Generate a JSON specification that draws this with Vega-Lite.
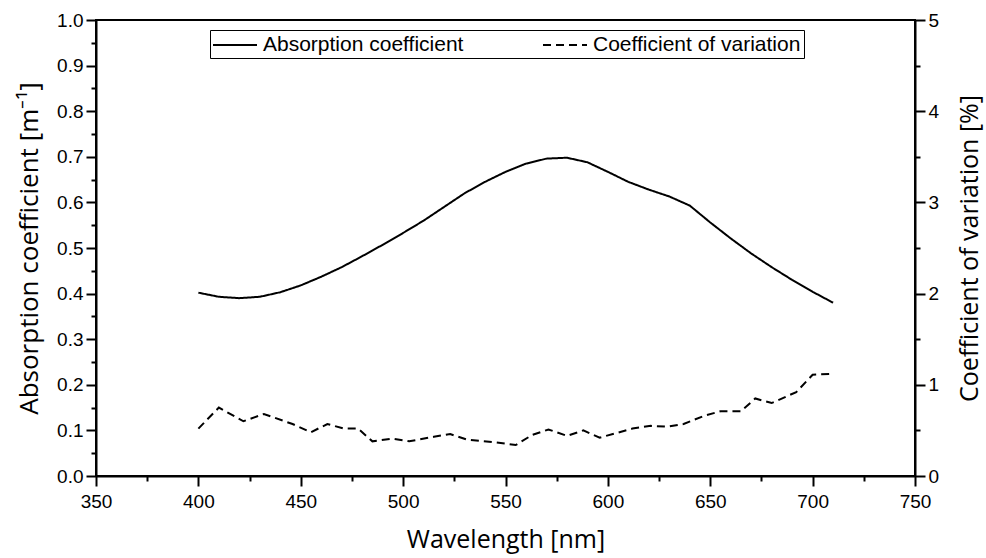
{
  "$schema": "https://vega.github.io/schema/vega-lite/v6.json",
  "width": 819,
  "height": 456,
  "autosize": {"type": "none"},
  "padding": {"left": 96, "top": 20, "right": 71, "bottom": 82},
  "background": "white",
  "config": {
    "view": {"stroke": "black", "strokeWidth": 2},
    "axis": {
      "domainColor": "black", "domainWidth": 2, "tickColor": "black", "tickWidth": 2,
      "grid": false, "labelFont": "Liberation Sans", "labelFontSize": 19, "labelColor": "black",
      "titleFont": "Open Sans", "titleFontSize": 25, "titleFontWeight": "normal", "titleColor": "black"
    },
    "legend": {"labelFont": "Liberation Sans", "labelFontSize": 21, "labelColor": "black", "labelLimit": 500}
  },
  "datasets": {
    "abs": [
      {"wl": 400, "a": 0.402}, {"wl": 410, "a": 0.393}, {"wl": 420, "a": 0.390}, {"wl": 430, "a": 0.393},
      {"wl": 440, "a": 0.403}, {"wl": 450, "a": 0.418}, {"wl": 460, "a": 0.437}, {"wl": 470, "a": 0.458},
      {"wl": 480, "a": 0.482}, {"wl": 490, "a": 0.507}, {"wl": 500, "a": 0.533}, {"wl": 510, "a": 0.560},
      {"wl": 520, "a": 0.590}, {"wl": 530, "a": 0.620}, {"wl": 540, "a": 0.645}, {"wl": 550, "a": 0.667},
      {"wl": 560, "a": 0.685}, {"wl": 570, "a": 0.696}, {"wl": 580, "a": 0.698}, {"wl": 590, "a": 0.688},
      {"wl": 600, "a": 0.667}, {"wl": 610, "a": 0.645}, {"wl": 620, "a": 0.628}, {"wl": 630, "a": 0.613},
      {"wl": 640, "a": 0.593}, {"wl": 650, "a": 0.556}, {"wl": 660, "a": 0.521}, {"wl": 670, "a": 0.488},
      {"wl": 680, "a": 0.458}, {"wl": 690, "a": 0.430}, {"wl": 700, "a": 0.404}, {"wl": 710, "a": 0.380}
    ],
    "cv": [
      {"wl": 400, "c": 0.52}, {"wl": 410, "c": 0.75}, {"wl": 422, "c": 0.60}, {"wl": 432, "c": 0.68},
      {"wl": 446, "c": 0.57}, {"wl": 455, "c": 0.48}, {"wl": 463, "c": 0.57}, {"wl": 471, "c": 0.52},
      {"wl": 478, "c": 0.52}, {"wl": 485, "c": 0.38}, {"wl": 495, "c": 0.41}, {"wl": 503, "c": 0.38},
      {"wl": 515, "c": 0.43}, {"wl": 523, "c": 0.46}, {"wl": 531, "c": 0.40}, {"wl": 545, "c": 0.37},
      {"wl": 555, "c": 0.34}, {"wl": 563, "c": 0.45}, {"wl": 571, "c": 0.51}, {"wl": 580, "c": 0.44},
      {"wl": 588, "c": 0.50}, {"wl": 596, "c": 0.42}, {"wl": 604, "c": 0.47}, {"wl": 612, "c": 0.52},
      {"wl": 621, "c": 0.55}, {"wl": 629, "c": 0.54}, {"wl": 637, "c": 0.57}, {"wl": 647, "c": 0.66},
      {"wl": 655, "c": 0.71}, {"wl": 665, "c": 0.71}, {"wl": 672, "c": 0.85}, {"wl": 680, "c": 0.80},
      {"wl": 692, "c": 0.92}, {"wl": 700, "c": 1.11}, {"wl": 709, "c": 1.12}
    ]
  },
  "layer": [
    {
      "data": {"name": "abs"},
      "mark": {"type": "line", "color": "black", "strokeWidth": 2},
      "encoding": {
        "x": {
          "field": "wl", "type": "quantitative",
          "scale": {"domain": [350, 750], "nice": false, "zero": false},
          "axis": {
            "title": "Wavelength [nm]", "titlePadding": 16,
            "values": [350, 375, 400, 425, 450, 475, 500, 525, 550, 575, 600, 625, 650, 675, 700, 725, 750],
            "labelExpr": "datum.value % 50 === 0 ? datum.label : ''",
            "format": "d", "labelPadding": 6, "labelFlush": false, "labelOverlap": false,
            "tickSize": {"condition": {"test": "datum.value % 50 === 0", "value": 10}, "value": 5}
          }
        },
        "y": {
          "field": "a", "type": "quantitative",
          "scale": {"domain": [0, 1], "nice": false},
          "axis": {
            "title": "Absorption coefficient [m⁻¹]", "titlePadding": 14, "orient": "left", "titleFontSize": 26,
            "values": [0, 0.05, 0.1, 0.15, 0.2, 0.25, 0.3, 0.35, 0.4, 0.45, 0.5, 0.55, 0.6, 0.65, 0.7, 0.75, 0.8, 0.85, 0.9, 0.95, 1.0],
            "labelExpr": "abs(datum.value*10 - round(datum.value*10)) < 0.01 ? format(datum.value, '.1f') : ''",
            "labelPadding": 3, "labelFlush": false, "labelOverlap": false,
            "tickSize": {"condition": {"test": "abs(datum.value*10 - round(datum.value*10)) < 0.01", "value": 10}, "value": 5}
          }
        },
        "strokeDash": {
          "datum": "Absorption coefficient", "type": "nominal",
          "scale": {"domain": ["Absorption coefficient", "Coefficient of variation"], "range": [[1, 0], [8, 5]]},
          "legend": {
            "title": null, "orient": "none", "direction": "horizontal",
            "legendX": 114, "legendY": 10, "strokeColor": "black", "padding": 3,
            "symbolType": "M-2,0H2", "symbolSize": 484, "symbolStrokeWidth": 2, "symbolStrokeColor": "black",
            "labelOffset": 16, "columnPadding": 75, "symbolOffset": 10
          }
        }
      }
    },
    {
      "data": {"name": "cv"},
      "mark": {"type": "line", "color": "black", "strokeWidth": 2},
      "encoding": {
        "x": {"field": "wl", "type": "quantitative"},
        "y": {
          "field": "c", "type": "quantitative",
          "scale": {"domain": [0, 5], "nice": false},
          "axis": {
            "title": "Coefficient of variation [%]", "titlePadding": 44, "orient": "right", "titleAngle": 270,
            "values": [0, 0.5, 1, 1.5, 2, 2.5, 3, 3.5, 4, 4.5, 5],
            "labelExpr": "datum.value % 1 === 0 ? format(datum.value, 'd') : ''",
            "labelPadding": 3, "labelFlush": false, "labelOverlap": false,
            "tickSize": {"condition": {"test": "datum.value % 1 === 0", "value": 10}, "value": 5}
          }
        },
        "strokeDash": {"datum": "Coefficient of variation", "type": "nominal"}
      }
    }
  ],
  "resolve": {"scale": {"y": "independent"}}
}
